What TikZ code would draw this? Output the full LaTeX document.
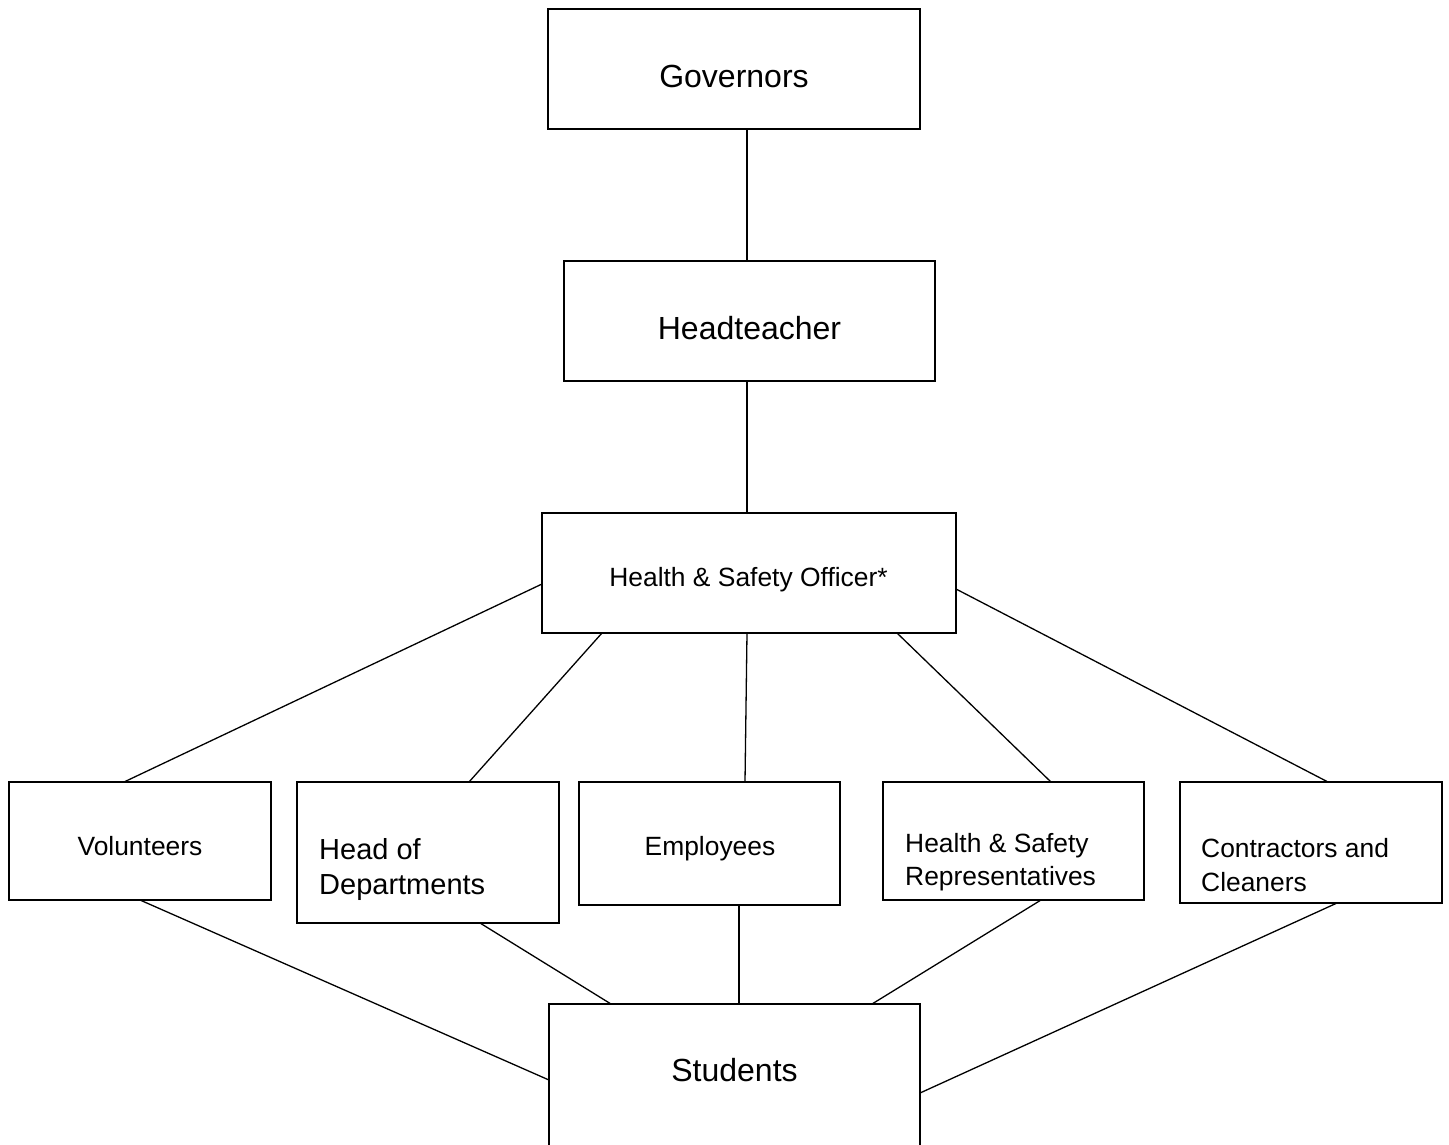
\documentclass[tikz,border=0pt]{standalone}
\usepackage{fontspec}
\setmainfont{Liberation Sans}
\usetikzlibrary{calc}
\tikzset{
  box/.style={draw=black, line width=1.2pt, fill=none, inner sep=0pt, outer sep=0pt},
  link/.style={draw=black, line width=1.3pt},
  big/.style={inner sep=0pt, font=\fontsize{32}{38}\selectfont, anchor=base},
  mid/.style={inner sep=0pt, font=\fontsize{29}{35}\selectfont, anchor=base west},
  small/.style={inner sep=0pt, font=\fontsize{26.4}{32}\selectfont, anchor=base},
  smallw/.style={inner sep=0pt, font=\fontsize{26.4}{32}\selectfont, anchor=base west},
}
\begin{document}
\begin{tikzpicture}[x=1pt,y=-1pt]
\clip (0,0) rectangle (1449,1144);
\fill[white] (0,0) rectangle (1449,1144);
% boxes
\node[box, minimum width=372pt, minimum height=120pt] (gov) at (734,69) {};
\node[box, minimum width=371pt, minimum height=120pt] (head) at (749.5,321) {};
\node[box, minimum width=414pt, minimum height=120pt] (hso) at (749,573) {};
\node[box, minimum width=262pt, minimum height=118pt] (vol) at (140,841) {};
\node[box, minimum width=262pt, minimum height=141pt] (hod) at (428,852.5) {};
\node[box, minimum width=261pt, minimum height=123pt] (emp) at (709.5,843.5) {};
\node[box, minimum width=261pt, minimum height=118pt] (rep) at (1013.5,841) {};
\node[box, minimum width=262pt, minimum height=121pt] (con) at (1311,842.5) {};
\node[box, minimum width=371pt, minimum height=160pt] (stu) at (734.5,1084) {};
% texts
\node[big] (govt) at (734,87.5) {Governors};
\node[big] (headt) at (749.5,339.5) {Headteacher};
\node[small] (hsot) at (748.5,586) {Health \& Safety Officer*};
\node[small] (volt) at (140,855) {Volunteers};
\node[mid] (hodA) at (319,859) {Head of};
\node[mid] (hodB) at (319,894) {Departments};
\node[small] (empt) at (710,855) {Employees};
\node[smallw] (repA) at (905,852) {Health \& Safety};
\node[smallw] (repB) at (905,885) {Representatives};
\node[smallw] (conA) at (1201,857) {Contractors and};
\node[smallw] (conB) at (1201,891) {Cleaners};
\node[big] (stut) at (734.5,1081.5) {Students};
% connectors
\draw[link] ($(gov.south)+(13,0)$) -- ($(head.north)+(-2.5,0)$);
\draw[link] ($(head.south)+(-2.5,0)$) -- ($(hso.north)+(-2,0)$);
\draw[link] ($(hso.north west)+(0,71)$) -- ($(vol.north west)+(115,0)$);
\draw[link] ($(hso.south west)+(60,0)$) -- ($(hod.north west)+(172,0)$);
\draw[link] ($(hso.south west)+(205,0)$) -- ($(emp.north west)+(166,0)$);
\draw[link] ($(hso.south west)+(355,0)$) -- ($(rep.north west)+(168,0)$);
\draw[link] ($(hso.north east)+(0,76)$) -- ($(con.north west)+(148,0)$);
\draw[link] ($(vol.south west)+(131,0)$) -- ($(stu.north west)+(0,76)$);
\draw[link] ($(hod.south west)+(183,0)$) -- ($(stu.north west)+(62,0)$);
\draw[link] ($(emp.south west)+(160,0)$) -- ($(stu.north west)+(190,0)$);
\draw[link] ($(rep.south west)+(158,0)$) -- ($(stu.north west)+(323,0)$);
\draw[link] ($(con.south west)+(157,0)$) -- ($(stu.north east)+(0,89)$);
\end{tikzpicture}
\end{document}
